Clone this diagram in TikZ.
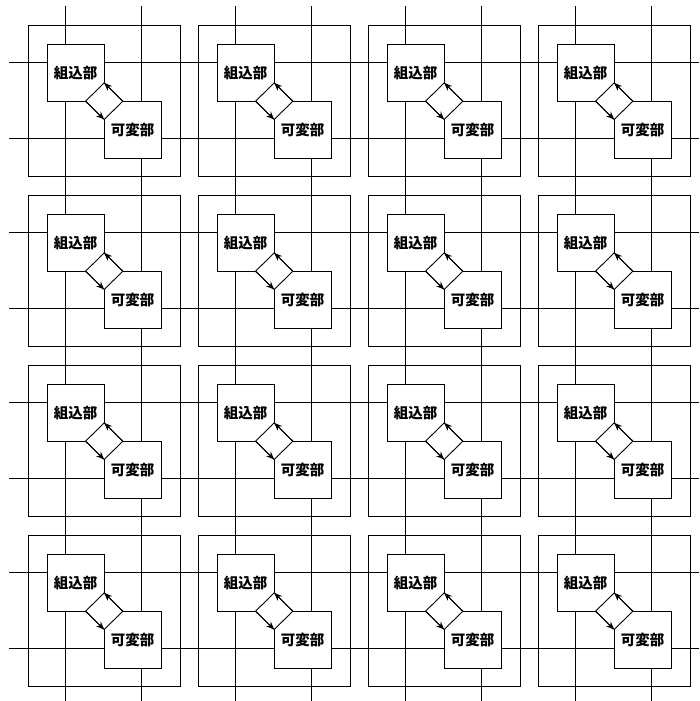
\documentclass[tikz,border=0pt]{standalone}
\usepackage{fontspec}
\newfontfamily\cjk{Noto Sans CJK JP}
\usetikzlibrary{arrows.meta,shapes.geometric,calc}
\begin{document}
\begin{tikzpicture}[x=1pt,y=-1pt,
  gridline/.style={line width=0.9pt},
  cellbox/.style={draw,line width=0.9pt},
  unit/.style={draw,fill=white,line width=0.9pt,minimum width=56.5pt,minimum height=56.5pt,inner sep=0pt,anchor=north west,font=\cjk\bfseries\fontsize{14.5}{14.5}\selectfont},
  swap/.style={diamond,draw,fill=white,line width=0.9pt,inner sep=0pt,outer sep=0pt,minimum width=37.3pt,minimum height=36.6pt},
  link/.style={line width=0.9pt,-{Stealth[length=8pt,width=6.5pt]}}]
\useasboundingbox (0,0) rectangle (699,701);
\foreach \k in {0,...,3}{
  \draw[gridline] ({65.7+170*\k},6) -- ({65.7+170*\k},701);
  \draw[gridline] ({141.7+170*\k},6) -- ({141.7+170*\k},701);
  \draw[gridline] (9,{62.7+170*\k}) -- (699,{62.7+170*\k});
  \draw[gridline] (9,{138.7+170*\k}) -- (699,{138.7+170*\k});
}
\foreach \i in {0,...,3}{\foreach \j in {0,...,3}{
  \draw[cellbox] ({28+170*\i},{25+170*\j}) rectangle ({180+170*\i},{176+170*\j});
  \node[unit] (A-\i-\j) at ({47+170*\i},{44+170*\j}) {組込部};
  \node[unit] (B-\i-\j) at ({104+170*\i},{101+170*\j}) {可変部};
  \node[swap] (D-\i-\j) at ($(A-\i-\j.south east)!0.5!(B-\i-\j.north west)$) {};
  \draw[link] (D-\i-\j.west) -- (D-\i-\j.south);
  \draw[link] (D-\i-\j.east) -- (D-\i-\j.north);
}}
\end{tikzpicture}
\end{document}
